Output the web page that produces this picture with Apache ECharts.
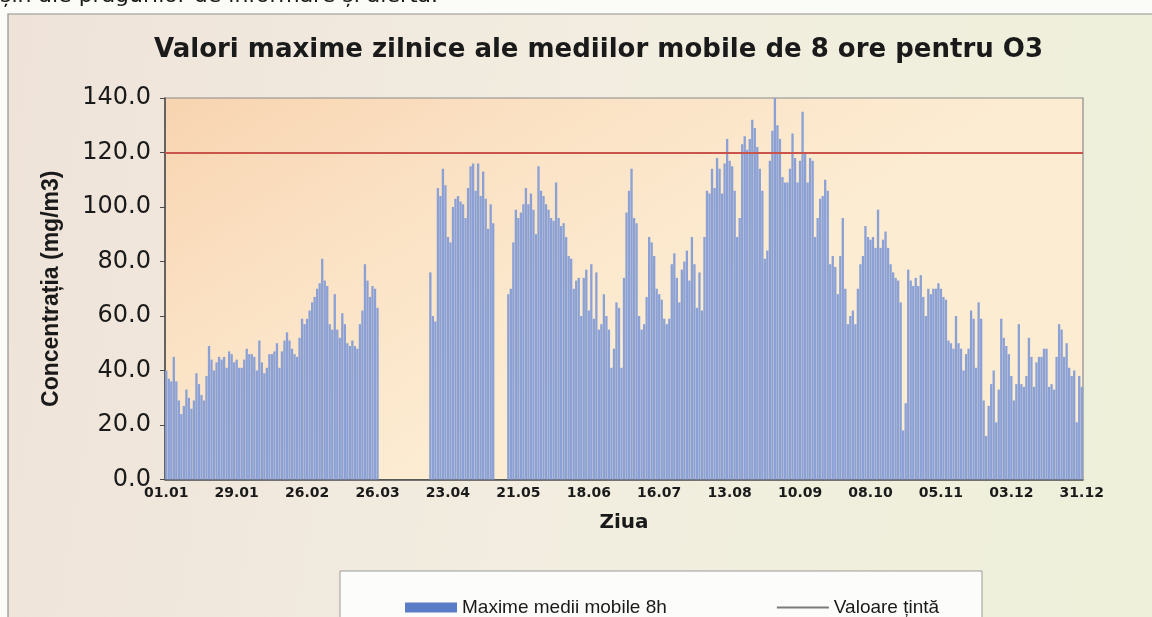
<!DOCTYPE html>
<html>
<head>
<meta charset="utf-8">
<script src="https://cdn.jsdelivr.net/npm/echarts@6/dist/echarts.min.js"></script>
<style>
html,body{margin:0;padding:0;background:#fbfbf7;}
#c{width:1152px;height:617px;}
</style>
</head>
<body>
<div id="c"></div>
<script>
// Daily maxima of 8h moving averages for O3 (null = no data)
const jan = [40,37,36,45,36,29,24,27,33,30,26,29,39,35,31,29,38,49,44,40,43,45,44,45,41,47,46,43,44,41,41];
const feb = [44,48,46,46,45,40,51,43,39,41,46,46,47,50,41,47,51,54,51,48,46,45,52,59,57,59,62,65];
const mar = [67,70,72,81,73,71,57,55,68,55,52,61,57,50,49,51,49,48,57,62,79,73,67,71,70,63,null,null,null,null,null];
const apr = [null,null,null,null,null,null,null,null,null,null,null,null,null,null,null,76,60,58,107,104,114,108,89,87,100,103,104,102,101,96];
const may = [107,115,116,106,116,104,113,103,92,101,94,null,null,null,null,null,68,70,87,99,96,98,101,107,101,105,99,90,115,106,104];
const jun = [101,99,96,95,109,96,93,94,89,82,81,70,73,74,60,74,77,62,79,59,76,55,57,68,60,55,41,48,65,63];
const jul = [41,74,98,106,114,96,94,60,55,57,67,89,87,82,70,68,66,59,57,59,79,83,74,65,77,80,84,73,89,79,63];
const aug = [76,62,89,106,105,114,107,118,114,105,116,125,117,115,106,89,96,123,126,121,125,132,129,122,114,106,81,84,117,128,140];
const sep = [130,125,111,109,109,114,127,118,109,117,135,120,109,118,117,89,96,103,104,110,106,79,82,78,68,82,96,70,57,60];
const oct = [62,57,70,79,82,93,89,88,89,85,99,85,88,91,85,79,76,74,73,65,18,28,77,73,71,74,71,75,67,60,70];
const nov = [68,70,70,72,70,67,66,51,50,48,60,50,48,40,46,48,62,59,41,65,59,29,16,27,35,40,21,33,59,52];
const dec = [49,46,38,29,35,57,35,34,38,52,45,34,43,45,45,48,48,34,35,33,45,57,55,45,50,41,38,40,21,38,34];

const monthCodes = ['01','02','03','04','05','06','07','08','09','10','11','12'];
const monthValues = [jan,feb,mar,apr,may,jun,jul,aug,sep,oct,nov,dec];
const TARGET = 120;
const seriesNames = ['Maxime medii mobile 8h','Valoare țintă'];
const chartTitle = 'Valori maxime zilnice ale mediilor mobile de 8 ore pentru O3';
const yName = 'Concentrația (mg/m3)';
const xName = 'Ziua';

const categories = [];
const values = [];
monthValues.forEach((arr, mi) => {
  arr.forEach((v, di) => {
    categories.push(String(di + 1).padStart(2, '0') + '.' + monthCodes[mi]);
    values.push(v);
  });
});

const chart = echarts.init(document.getElementById('c'), null, {renderer: 'canvas'});
const FONT_H = "'DejaVu Sans', sans-serif";
const FONT_A = "'Liberation Sans', Arial, sans-serif";

chart.setOption({
  animation: false,
  backgroundColor: '#fbfbf7',
  graphic: [
    {
      type: 'rect', z: -100, silent: true,
      shape: {x: 8, y: 14, width: 1160, height: 620},
      style: {
        fill: {type: 'linear', x: 0, y: 0, x2: 1, y2: 0.3,
          colorStops: [{offset: 0, color: '#efe3d9'}, {offset: 0.5, color: '#f2ede0'}, {offset: 1, color: '#eef0da'}]},
        stroke: '#8f8f8f', lineWidth: 1.2
      }
    },
    {
      type: 'text', z: 10, silent: true, left: 0, top: -15,
      style: {text: 'șin ale pragurilor de informare și alertă.', font: "22px 'DejaVu Sans', sans-serif", fill: '#1a1a1a'}
    },
    {
      type: 'rect', z: 5, silent: true,
      shape: {x: 340, y: 571, width: 642, height: 70},
      style: {fill: '#fcfcfa', stroke: '#9a9a9a', lineWidth: 1}
    }
  ],
  title: {
    text: chartTitle,
    left: 149, top: 32,
    textStyle: {fontFamily: FONT_H, fontWeight: 'bold', fontSize: 26, color: '#1a1a1a'}
  },
  legend: {
    z: 10,
    left: 400, top: 593,
    itemWidth: 52, itemHeight: 10, itemGap: 110,
    textStyle: {fontFamily: FONT_A, fontSize: 19, color: '#1a1a1a'},
    data: [
      {name: seriesNames[0], icon: 'rect', itemStyle: {color: '#5b7cc6'}},
      {name: seriesNames[1], icon: 'path://M0,0 L52,0 L52,2 L0,2 Z', itemStyle: {color: '#7a7a7a'}}
    ]
  },
  grid: {
    left: 165, top: 98, width: 918, height: 381.5,
    show: true,
    backgroundColor: {type: 'linear', x: 0, y: 0, x2: 0.25, y2: 1,
      colorStops: [{offset: 0, color: '#f8d4b0'}, {offset: 0.5, color: '#fbe2c5'}, {offset: 1, color: '#fcecd2'}]},
    borderColor: '#8a8a8a', borderWidth: 1.2
  },
  xAxis: {
    type: 'category',
    data: categories,
    boundaryGap: true,
    name: xName,
    nameLocation: 'middle',
    nameGap: 33,
    nameTextStyle: {fontFamily: FONT_H, fontWeight: 'bold', fontSize: 20, color: '#1a1a1a'},
    axisLine: {show: true, lineStyle: {color: '#4a4a4a', width: 1.5}},
    axisTick: {show: false},
    axisLabel: {interval: 27, margin: 7, fontFamily: FONT_H, fontWeight: 'bold', fontSize: 14, color: '#1a1a1a'},
    splitLine: {show: false}
  },
  yAxis: {
    type: 'value',
    min: 0, max: 140, interval: 20,
    name: yName,
    nameLocation: 'middle',
    nameGap: 102,
    nameRotate: 90,
    nameTextStyle: {fontFamily: FONT_A, fontWeight: 'bold', fontSize: 23, color: '#1a1a1a'},
    axisLine: {show: true, lineStyle: {color: '#4a4a4a', width: 1.5}},
    axisTick: {show: true, inside: false, length: 5, lineStyle: {color: '#4a4a4a'}},
    axisLabel: {margin: 14, formatter: v => v.toFixed(1), fontFamily: FONT_H, fontSize: 24, color: '#1a1a1a'},
    splitLine: {show: false}
  },
  series: [
    {
      name: seriesNames[0],
      type: 'bar',
      data: values,
      barCategoryGap: '8%',
      itemStyle: {color: '#8ba1d5'},
      markLine: {
        silent: true, symbol: 'none',
        label: {show: false},
        lineStyle: {color: '#c8544c', width: 2, type: 'solid'},
        data: [{yAxis: TARGET}]
      }
    },
    {
      name: seriesNames[1],
      type: 'line',
      data: [],
      symbol: 'none',
      itemStyle: {color: '#7a7a7a'},
      lineStyle: {color: '#7a7a7a', width: 2}
    }
  ]
});
</script>
</body>
</html>
